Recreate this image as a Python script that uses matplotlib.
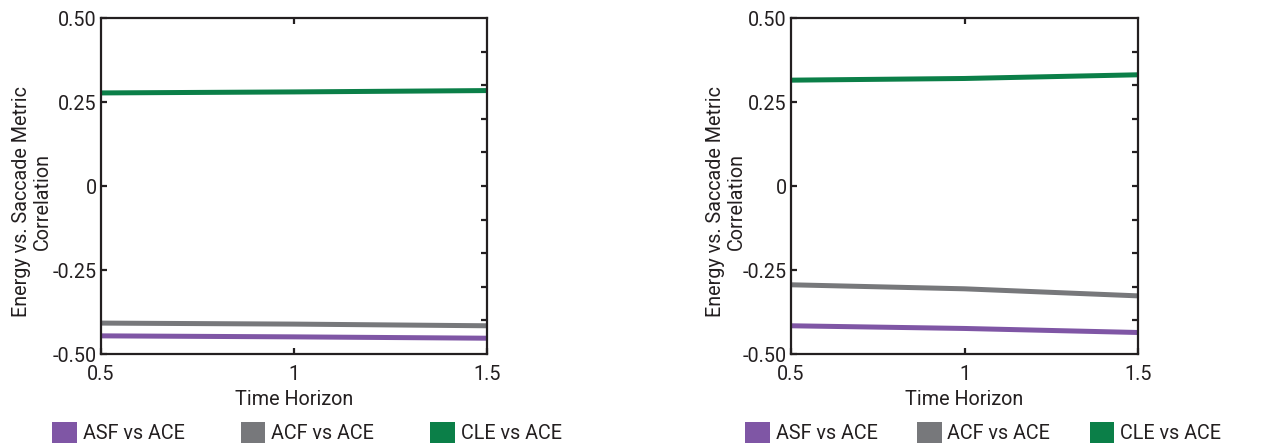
import matplotlib
matplotlib.use("Agg")
import matplotlib.pyplot as plt
from matplotlib.patches import Patch

plt.rcParams['font.family'] = ['Roboto', 'DejaVu Sans']

horizon = [0.5, 1.0, 1.5]
series_names = ["ASF vs ACE", "ACF vs ACE", "CLE vs ACE"]
left_asf = [-0.446, -0.449, -0.453]
left_acf = [-0.408, -0.411, -0.416]
left_cle = [0.277, 0.280, 0.284]
right_asf = [-0.416, -0.424, -0.436]
right_acf = [-0.294, -0.306, -0.327]
right_cle = [0.315, 0.320, 0.331]
yticks = [-0.5, -0.25, 0, 0.25, 0.5]
ytick_labels = ["-0.50", "-0.25", "0", "0.25", "0.50"]
xticks = [0.5, 1, 1.5]
xtick_labels = ["0.5", "1", "1.5"]

colors = ["#7f56a5", "#77787b", "#0b7f48"]
text_color = "#231f20"
FS = 14.2

fig = plt.figure(figsize=(12.79, 4.46), dpi=100)
W, H = 1279, 446
axes_px = [(101, 18, 487, 354), (791, 18, 1138, 354)]
label_x_px = [52, 746]
legend_px = [(52, 2.85), (745, 2.0)]
data = [(left_asf, left_acf, left_cle), (right_asf, right_acf, right_cle)]

for (x0, y0, x1, y1), lxp, (lx, colsp), vals in zip(axes_px, label_x_px, legend_px, data):
    ax = fig.add_axes([x0 / W, 1 - y1 / H, (x1 - x0) / W, (y1 - y0) / H])
    for v, c in zip(vals, colors):
        ax.plot(horizon, v, color=c, lw=3.6, solid_capstyle='butt')
    ax.set_xlim(0.5, 1.5)
    ax.set_ylim(-0.5, 0.5)
    ax.set_xticks(xticks)
    ax.set_xticklabels(xtick_labels)
    ax.set_yticks(yticks)
    ax.set_yticklabels(ytick_labels)
    for s in ax.spines.values():
        s.set_linewidth(1.6)
        s.set_color(text_color)
    ax.tick_params(direction='in', length=4, width=1.6, labelsize=FS,
                   colors=text_color)
    ax.tick_params(axis='x', pad=8)
    ax.tick_params(axis='y', pad=3)
    axt = ax.secondary_xaxis('top')
    axt.set_xticks([1.0])
    axt.set_xticklabels([])
    axt.tick_params(direction='in', length=4, width=1.6, colors=text_color)
    axr = ax.secondary_yaxis('right')
    axr.set_yticks([-0.4, -0.3, -0.2, -0.1, 0, 0.1, 0.2, 0.3, 0.4])
    axr.set_yticklabels([])
    axr.tick_params(direction='in', length=4, width=1.6, colors=text_color)
    for s in list(axt.spines.values()) + list(axr.spines.values()):
        s.set_visible(False)
    ax.set_xlabel("Time Horizon", fontsize=FS, color=text_color, labelpad=4)
    ax.set_ylabel("Energy vs. Saccade Metric\nCorrelation", fontsize=FS,
                  color=text_color, linespacing=1.12)
    ax.yaxis.set_label_coords((lxp - x0) / (x1 - x0), (y1 - 202) / (y1 - y0))
    handles = [Patch(facecolor=c, edgecolor='none') for c in colors]
    leg = ax.legend(handles, series_names, ncol=3, frameon=False,
                    loc='upper left', bbox_to_anchor=(lx / W, 1 - 422 / H),
                    bbox_transform=fig.transFigure, borderpad=0, borderaxespad=0,
                    handlelength=1.25, handleheight=1.25, handletextpad=0.3,
                    columnspacing=colsp, fontsize=FS)
    for t in leg.get_texts():
        t.set_color(text_color)

fig.savefig("out.png", dpi=100)
